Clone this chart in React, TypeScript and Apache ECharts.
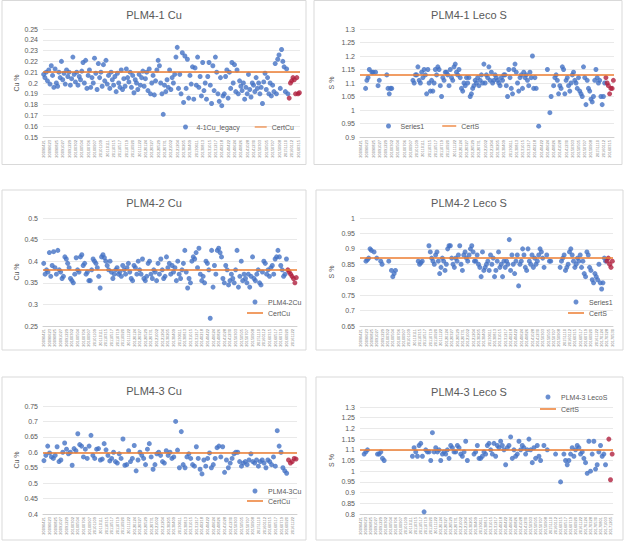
import React, { useEffect, useRef } from "react";
import * as echarts from "echarts";

const dateTicks = [
  "20090421","20090623","20090825","20091027","20091229","20100302","20100504","20100706",
  "20100907","20101109","20110111","20110315","20110517","20110719","20110920","20111122",
  "20120124","20120327","20120529","20120731","20121002","20121204","20130205","20130409",
  "20130611","20130813","20131015","20131217","20140218","20140422","20140624","20140826",
  "20141028","20141230","20150303","20150505","20150707","20150908","20151110","20160112",
  "20160315","20160517","20160719","20160920","20161122","20170124","20170328","20170530",
  "20170801","20171003","20171205","20180206","20180410"
];

const cu1Values = [
  0.208, 0.205, 0.21, 0.202, 0.212, 0.199, 0.216, 0.207, 0.196, 0.213, 0.2, 0.197, 0.21,
  0.205, 0.22, 0.203, 0.209, 0.199, 0.212, 0.206, 0.21, 0.198, 0.204, 0.224, 0.208, 0.201,
  0.21, 0.198, 0.206, 0.203, 0.211, 0.219, 0.2, 0.221, 0.195, 0.207, 0.212, 0.196, 0.205,
  0.2, 0.223, 0.209, 0.194, 0.218, 0.205, 0.21, 0.197, 0.217, 0.202, 0.221, 0.199, 0.207,
  0.195, 0.21, 0.203, 0.198, 0.206, 0.192, 0.209, 0.2, 0.196, 0.212, 0.194, 0.204, 0.197,
  0.213, 0.205, 0.201, 0.21, 0.196, 0.207, 0.191, 0.203, 0.2, 0.194, 0.208, 0.198, 0.205,
  0.211, 0.197, 0.204, 0.21, 0.193, 0.213, 0.19, 0.2, 0.207, 0.189, 0.202, 0.212, 0.221,
  0.216, 0.2, 0.19, 0.171, 0.198, 0.192, 0.203, 0.196, 0.212, 0.194, 0.205, 0.2, 0.208,
  0.224, 0.233, 0.195, 0.208, 0.19, 0.228, 0.182, 0.225, 0.195, 0.222, 0.186, 0.207, 0.199,
  0.215, 0.185, 0.214, 0.198, 0.224, 0.196, 0.206, 0.188, 0.219, 0.193, 0.2, 0.185, 0.206,
  0.219, 0.198, 0.181, 0.216, 0.193, 0.224, 0.21, 0.19, 0.183, 0.205, 0.179, 0.188, 0.19,
  0.206, 0.212, 0.186, 0.21, 0.195, 0.219, 0.2, 0.217, 0.192, 0.212, 0.19, 0.202, 0.197,
  0.193, 0.2, 0.185, 0.196, 0.19, 0.208, 0.194, 0.187, 0.2, 0.198, 0.192, 0.205, 0.195,
  0.2, 0.19, 0.196, 0.181, 0.201, 0.209, 0.194, 0.205, 0.19, 0.2, 0.188, 0.198, 0.192,
  0.218, 0.19, 0.222, 0.226, 0.195, 0.231, 0.22, 0.215, 0.192, 0.213, 0.19
];
const cu1Recent = [0.186, 0.2, 0.202, 0.205, 0.203, 0.19, 0.205, 0.19, 0.191];

const s1Values = [
  null, null, null, null, 1.08, 1.11, 1.12, 1.15, null, 1.14, 1.14, null, 1.14, null, 1.09, 1.11,
  null, null, null, null, null, 1.13, 1.08, 1.06, 1.08, 1.08,
  null, null, null, null, null, null, null, null, null, null, null, null, null, null, null, null,
  1.11, 1.1, 1.13, 1.13, 1.16, 1.11, 1.1, 1.14, 1.12, 1.15,
  1.13, 1.06, 1.15, 1.1, 1.07, 1.11, 1.07, 1.1, 1.15, 1.13,
  1.16, 1.15, 1.09, 1.05, 1.12, 1.11, 1.14, 1.14, 1.13, 1.09,
  1.15, 1.12, 1.11, 1.16, 1.17, 1.14, 1.13, 1.15, 1.12, 1.08,
  1.07, 1.1, 1.09, 1.12, 1.1, 1.12, 1.05, 1.06, 1.08, 1.09,
  1.11, 1.1, 1.12, 1.09, 1.11, 1.13, 1.1,
  1.17, 1.1, 1.13, 1.12, 1.16, 1.11, 1.14, 1.1, 1.11, 1.13,
  1.12, 1.11, 1.1, 1.09, 1.12, 1.11, 1.13,
  1.13, 1.09, 1.05, 1.15, 1.12, 1.08, 1.06, 1.15, 1.17, 1.14,
  1.1, 1.07, 1.12, 1.13, 1.08, 1.14, 1.12, 1.13, 1.11, 1.09,
  1.14, 1.12, 1.2, 1.08, 1.12, 1.08,
  null, 0.94, null, null, null, null, null, null, 1.15, null, 0.99, 1.05, null,
  1.09, 1.12, 1.13, 1.11, 1.06, 1.09, 1.08, 1.16, 1.15, 1.06, 1.11, 1.12, 1.09, 1.07,
  1.1, 1.13, 1.14, 1.11, 1.1, 1.08, 1.12, 1.07, 1.06, 1.05, 1.16, 1.12, 1.02, 1.11,
  1.08, 1.07, 1.04, 1.03, 1.05, 1.11, 1.15, 1.12, 1.1, 1.11, 1.05, 1.02, 1.05, 1.1
];
const s1Recent = [1.12, 1.1, 1.09, 1.06, 1.08, 1.08, 1.11];

const cu2Values = [
  0.395, 0.37, 0.38, 0.375, 0.42, 0.365, 0.39, 0.422, 0.385, 0.37, 0.425, 0.38, 0.375, 0.36, 0.365,
  0.41, 0.405, 0.395, 0.385, 0.36, 0.355, 0.35, 0.37, 0.408, 0.38, 0.375,
  0.41, 0.415, 0.39, 0.395, 0.37, 0.375, 0.355, 0.355, 0.38, 0.405, 0.4,
  0.395, 0.385, 0.365, 0.338, 0.41, 0.415, 0.408, 0.4, 0.39,
  0.38, 0.4, 0.375, 0.36, 0.37, 0.38, 0.385, 0.37, 0.375, 0.365, 0.39,
  0.38, 0.37, 0.385, 0.395, 0.375, 0.36, 0.355, 0.39, 0.385, 0.37, 0.4,
  0.38, 0.37, 0.405, 0.36, 0.355, 0.365, 0.395, 0.4, 0.37, 0.36, 0.38,
  0.375, 0.355, 0.395, 0.37, 0.405, 0.38, 0.36, 0.365, 0.41, 0.385, 0.395,
  0.37, 0.39, 0.375, 0.385, 0.355, 0.4, 0.37, 0.36, 0.38, 0.395, 0.425,
  0.375, 0.338, 0.36, 0.35, 0.4, 0.41, 0.405, 0.42, 0.385, 0.43, 0.37,
  0.355, 0.365, 0.35, 0.4, 0.395, 0.38, 0.268, 0.425, 0.34, 0.39, 0.37,
  0.425, 0.43, 0.42, 0.41, 0.36, 0.35, 0.39, 0.38, 0.345, 0.355, 0.37,
  0.36, 0.35, 0.38, 0.425, 0.34, 0.365, 0.4, 0.355, 0.37, 0.36, 0.35,
  0.37, 0.34, 0.365, 0.41, 0.36, 0.355, 0.37, 0.38, 0.35, 0.345, 0.375,
  0.4, 0.395, 0.37, 0.38, 0.365, 0.385, 0.39, 0.37, 0.405, 0.41, 0.425,
  0.41, 0.39, 0.38, 0.365, 0.37, 0.405
];
const cu2Recent = [0.38, 0.375, 0.37, 0.365, 0.36, 0.35, 0.362];

const s2Values = [
  null, null, null, null, 0.86, 0.865, 0.87, 0.9, 0.895, null, 0.89, null, 0.87, null, null, 0.86,
  0.85, null, null, null, null, 0.86, null, 0.83, 0.81, 0.82, 0.83,
  null, null, null, null, null, null, null, null, null, null, null, null, null, null, null, null,
  0.86, 0.85, 0.855, 0.86, null, null, null, null, 0.91,
  0.89, 0.87, 0.86, 0.85, 0.88, 0.89, 0.86, 0.82, 0.84,
  0.87, 0.86, 0.83, 0.85, 0.9, 0.91, 0.91, 0.87,
  0.85, 0.84, 0.87, 0.86, 0.88, 0.91, 0.85, 0.83,
  0.88, 0.89, 0.87, 0.86, 0.88, 0.9, 0.91, 0.89, 0.86,
  0.86, 0.88, 0.85, 0.84, 0.81, 0.89, 0.83, 0.84, 0.85,
  0.86, 0.83, 0.88, 0.85, 0.87, 0.81, 0.83, 0.86, 0.89, 0.84,
  0.85, 0.81, 0.86, 0.84, 0.86, 0.85, 0.93, 0.83, 0.88, 0.85,
  0.82, 0.86, 0.88, 0.78, 0.85, 0.86, 0.9, 0.88, 0.84, 0.83,
  0.9, 0.86, 0.85, 0.88, 0.84, 0.87, 0.85, 0.86, 0.88, 0.9, 0.89,
  0.87, 0.84, null, 0.88, null, 0.86, 0.86,
  null, null, null, null, null, null,
  0.84, 0.86, 0.87, 0.88, 0.83, 0.84, 0.85, 0.89, 0.9, 0.88, 0.86,
  0.84, 0.85, 0.87, 0.86, 0.88, 0.84, 0.86, 0.82, 0.81, 0.89, 0.88,
  0.84, 0.83, 0.8, 0.79, 0.82, 0.81, 0.8, 0.85,
  0.79, 0.77, 0.79, 0.87, 0.86
];
const s2Recent = [0.86, 0.87, 0.85, 0.84, 0.86];

const cu3Values = [
  0.573, 0.59, 0.62, 0.598, 0.585, 0.58, 0.59, 0.618,
  0.57, 0.575, 0.6, 0.63, 0.61, 0.595, 0.6, 0.558, 0.612, 0.605,
  0.66, 0.625, 0.62, 0.585, 0.61, 0.58, 0.62,
  0.655, 0.59, 0.58, 0.61, 0.612, 0.575, 0.578,
  0.628, 0.608, 0.59, 0.572, 0.58, 0.6, 0.57, 0.565,
  0.595, 0.58, 0.643, 0.558, 0.56, 0.605, 0.57, 0.58,
  0.622, 0.54, 0.575, 0.6, 0.59, 0.58, 0.56, 0.61,
  0.628, 0.585, 0.545, 0.56, 0.595, 0.6, 0.59, 0.57, 0.565,
  0.605, 0.59, 0.6, 0.58, 0.585, 0.7, 0.607, 0.55, 0.667,
  0.56, 0.55, 0.585, 0.595, 0.58, 0.56, 0.555, 0.618,
  0.58, 0.545, 0.53, 0.575, 0.555, 0.58, 0.598, 0.55,
  0.56, 0.58, 0.615, 0.62, 0.585, 0.618, 0.535, 0.575,
  0.55, 0.565, 0.58, 0.595, 0.6, 0.6, 0.57, 0.555,
  0.565, 0.57, 0.56, 0.575, 0.595, 0.57, 0.565, 0.575,
  0.555, 0.57, 0.575, 0.565, 0.55, 0.575, 0.57, 0.56, 0.585,
  0.555, 0.67, 0.62, 0.6, 0.55, 0.54, 0.532
];
const cu3Recent = [0.575, 0.565, 0.57, 0.58, 0.578];

const s3Values = [
  null, null, 1.08, 1.09, 1.1, null, null, null, null, null, 1.08, 1.08, 1.09, 1.06, 1.05, null,
  null, null, null, null, null, null, null, null, null, null, null, null, null, null, null,
  1.07, 1.11, 1.09, 1.07, 1.12, 1.13, 1.07, 0.81, 1.1,
  1.09, 1.09, 1.05, 1.18, 1.09,
  1.11, 1.09, 1.1, 1.05,
  1.08, 1.09, 1.08, 1.1, 1.06,
  1.12, 1.11, 1.09, 1.09, 1.12,
  1.11, 1.08, 1.07, 1.09, 1.14, 1.05,
  null, null, null,
  1.08, 1.09, 1.12, 1.06, 1.06,
  1.07, 1.09, 1.08, 1.12, 1.13, 1.1,
  1.08, 1.13, 1.07, 1.12, 1.11, 1.14, 1.12, 1.1,
  1.03, 1.11, 1.12, 1.16,
  1.06, 1.1, 1.07, 1.08, 1.14, 1.1,
  1.12, 1.11, 1.08, 1.1, 1.15, 1.1,
  1.04, 1.11, 1.06, 1.12, 1.07, 1.05,
  null, 1.12, null, 1.1, null,
  null, null, null, 1.08, null, null, 0.95, null, 1.08,
  1.05, 1.03, 1.05, 1.08, 1.11, 1.07, 1.1, 1.12, 1.11, 1.08, 1.09, 1.06, 1.04,
  0.99, 1.14, 1.0, 1.08, 1.14, 1.01, 1.03, 1.09, 1.12, 1.07, 1.08, 1.03,
  null
];
const s3Recent = [1.15, 0.96, 1.08];

const panelTitles = ["PLM4-1 Cu", "PLM4-1 Leco S", "PLM4-2 Cu", "PLM4-2 Leco S", "PLM4-3 Cu", "PLM4-3 Leco S"];
const seriesNames = ["4-1Cu_legacy", "Series1", "PLM4-2Cu", "Series1", "PLM4-3Cu", "PLM4-3 LecoS"];
const certNames = ["CertCu", "CertS", "CertCu", "CertS", "CertCu", "CertS"];
const yNames = ["Cu %", "S %", "Cu %", "S %", "Cu %", "S %"];
const certValues = [0.206, 1.13, 0.378, 0.87, 0.597, 1.1];
const yMins = [0.15, 0.9, 0.25, 0.65, 0.4, 0.8];
const yMaxs = [0.25, 1.3, 0.5, 1, 0.75, 1.3];
const yIntervals = [0.01, 0.05, 0.05, 0.05, 0.05, 0.05];
const labelEvery = [5, 5, 4, 4, 3, 3];

const panelData = [
  { values: cu1Values, recent: cu1Recent },
  { values: s1Values, recent: s1Recent },
  { values: cu2Values, recent: cu2Recent },
  { values: s2Values, recent: s2Recent },
  { values: cu3Values, recent: cu3Recent },
  { values: s3Values, recent: s3Recent },
];

// layout (styles only)
const layout = [
  { box: [2, 0.5, 304, 164], grid: { left: 43, top: 29, width: 257, height: 108 }, title: [154, 15], nameGap: 21,
    legend: { orient: "horizontal", left: 183, top: 123.5, itemGap: 15, itemWidth: 12 } },
  { box: [314, 0.5, 308, 164], grid: { left: 360, top: 29, width: 254, height: 108 }, title: [469, 15], nameGap: 25,
    legend: { orient: "horizontal", left: 386, top: 122.5, itemGap: 18, itemWidth: 14 } },
  { box: [2, 190, 304, 160], grid: { left: 43, top: 218, width: 254, height: 108 }, title: [154, 203], nameGap: 21,
    legend: { orient: "vertical", left: 247, top: 298.5, itemGap: 4, itemWidth: 16 } },
  { box: [316, 190, 307, 160], grid: { left: 360, top: 218, width: 253, height: 108 }, title: [469, 203], nameGap: 25,
    legend: { orient: "vertical", left: 568, top: 298.5, itemGap: 4, itemWidth: 16 } },
  { box: [2, 377, 304, 163], grid: { left: 43, top: 406, width: 254, height: 108 }, title: [154, 391], nameGap: 21,
    legend: { orient: "vertical", left: 247, top: 487.5, itemGap: 3, itemWidth: 16 } },
  { box: [316, 377, 307, 163], grid: { left: 360, top: 407, width: 253, height: 107 }, title: [469, 392], nameGap: 25,
    legend: { orient: "vertical", left: 540, top: 393.5, itemGap: 5, itemWidth: 16 } },
];

const FONT = "'Liberation Sans', Arial, sans-serif";
const TEXT = "#595959";
const LINE_ICON = "path://M0,0 L32,0 L32,3 L0,3 Z";

export default function App() {
  const ref = useRef<HTMLDivElement>(null);
  useEffect(() => {
    document.body.style.margin = "0";
    const chart = echarts.init(ref.current!, null, { renderer: "svg" });
    const grid: any[] = [];
    const xAxis: any[] = [];
    const yAxis: any[] = [];
    const series: any[] = [];
    const legend: any[] = [];
    const graphic: any[] = [];

    panelData.forEach((p, i) => {
      const L = layout[i];
      const n = p.values.length + p.recent.length;
      const k = labelEvery[i];
      const cats = Array.from({ length: n }, (_, j) =>
        j % k === 0 ? dateTicks[j / k] ?? "" : ""
      );
      graphic.push({
        type: "rect",
        shape: { x: L.box[0], y: L.box[1], width: L.box[2], height: L.box[3] },
        style: { fill: "none", stroke: "#D9D9D9", lineWidth: 1 },
        z: -10,
      });
      graphic.push({
        type: "text",
        x: L.title[0],
        y: L.title[1],
        style: {
          text: panelTitles[i],
          fontSize: 11,
          fontFamily: FONT,
          fill: TEXT,
          textAlign: "center",
          textVerticalAlign: "middle",
        },
      });
      grid.push({ ...L.grid, containLabel: false });
      xAxis.push({
        type: "category",
        gridIndex: i,
        data: cats,
        boundaryGap: true,
        axisTick: { show: false },
        axisLine: { lineStyle: { color: "#D0D0D0", width: 1 } },
        axisLabel: { interval: 0, rotate: 90, fontSize: 4, color: "#7F7F7F", margin: 3, fontFamily: FONT },
        splitLine: { show: false },
      });
      yAxis.push({
        type: "value",
        gridIndex: i,
        min: yMins[i],
        max: yMaxs[i],
        interval: yIntervals[i],
        name: yNames[i],
        nameLocation: "middle",
        nameGap: L.nameGap,
        nameTextStyle: { fontSize: 7, color: TEXT, fontFamily: FONT },
        axisLine: { show: false },
        axisTick: { show: false },
        axisLabel: { fontSize: 7, color: TEXT, margin: 5, fontFamily: FONT },
        splitLine: { lineStyle: { color: "#E3E3E3", width: 0.8 } },
      });
      series.push({
        type: "scatter",
        name: seriesNames[i],
        xAxisIndex: i,
        yAxisIndex: i,
        symbolSize: 5,
        itemStyle: { color: "#4472C4" },
        data: p.values.flatMap((v, j) => (v == null ? [] : [[j, v]])),
        z: 2,
      });
      series.push({
        type: "line",
        name: certNames[i],
        xAxisIndex: i,
        yAxisIndex: i,
        symbol: "none",
        showSymbol: false,
        lineStyle: { color: "#ED7D31", width: 1.5 },
        itemStyle: { color: "#ED7D31" },
        data: [],
        markLine: {
          silent: true,
          symbol: ["none", "none"],
          label: { show: false },
          lineStyle: { color: "#ED7D31", width: 1.5, type: "solid" },
          data: [{ yAxis: certValues[i] }],
        },
        z: 3,
      });
      series.push({
        type: "scatter",
        name: "recent" + i,
        xAxisIndex: i,
        yAxisIndex: i,
        symbolSize: 5,
        itemStyle: { color: "#B0203F" },
        data: p.recent.map((v, j) => [p.values.length + j, v]),
        z: 4,
      });
      legend.push({
        data: [
          { name: seriesNames[i], icon: "circle" },
          { name: certNames[i], icon: LINE_ICON },
        ],
        orient: L.legend.orient,
        left: L.legend.left,
        top: L.legend.top,
        itemGap: L.legend.itemGap,
        itemWidth: L.legend.itemWidth,
        itemHeight: 5,
        padding: 0,
        selectedMode: false,
        textStyle: { fontSize: 7, color: TEXT, fontFamily: FONT },
      });
    });

    chart.setOption({
      animation: false,
      backgroundColor: "#ffffff",
      textStyle: { fontFamily: FONT },
      grid,
      xAxis,
      yAxis,
      series,
      legend,
      graphic,
    });
    return () => chart.dispose();
  }, []);
  return (
    <div
      ref={ref}
      style={{ position: "fixed", left: 0, top: 0, width: 624, height: 543, background: "#fff" }}
    />
  );
}
